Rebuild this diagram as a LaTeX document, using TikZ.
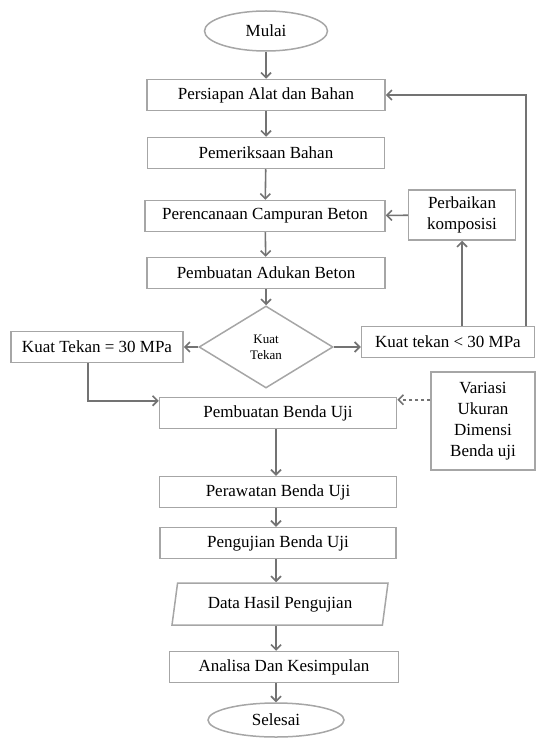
\documentclass[tikz,border=0pt]{standalone}
\usepackage{fontspec}
\setmainfont{Liberation Serif}
\usetikzlibrary{shapes.geometric,arrows.meta}

\begin{document}
\begin{tikzpicture}[
            x=1pt, y=-1pt,
            font=\rmfamily\fontsize{17}{21}\selectfont,
            proses/.style={rectangle, draw=black!35, line width=1.5pt, minimum height=31pt, inner sep=2pt},
            term/.style={ellipse, draw=black!35, line width=1.5pt, inner sep=0pt},
            io/.style={trapezium, trapezium left angle=74, trapezium right angle=106,
                trapezium stretches body, draw=black!35, line width=1.5pt,
                minimum width=216pt, minimum height=42pt, inner sep=2pt},
            kpts/.style={diamond, draw=black!35, line width=1.5pt, inner sep=0pt,
                minimum width=134pt, minimum height=82pt, align=center,
                font=\rmfamily\fontsize{13}{16}\selectfont},
            arr/.style={draw=black!55, line width=1.6pt, -{Straight Barb[length=5pt,width=10pt]}}
        ]
        \useasboundingbox (0,0) rectangle (536,738);

        % Main column
        \node[term, minimum width=123pt, minimum height=40pt] (mulai) at (266,31) {Mulai};
        \node[proses, minimum width=238pt] (siap)    at (266,95)  {Persiapan Alat dan Bahan};
        \node[proses, minimum width=237pt] (periksa) at (266,153) {Pemeriksaan Bahan};
        \node[proses, minimum width=240pt] (rencana) at (265,216) {Perencanaan Campuran Beton};
        \node[proses, minimum width=238pt] (aduk)    at (266,273) {Pembuatan Adukan Beton};
        \node[kpts] (kuat) at (266,347) {Kuat\\Tekan};

        % Side boxes
        \node[proses, minimum width=172pt] (ktsama)   at (97,347)  {Kuat Tekan = 30 MPa};
        \node[proses, minimum width=173pt] (ktkurang) at (448,342) {Kuat tekan < 30 MPa};
        \node[proses, minimum width=107pt, minimum height=50pt, align=center] (perbaikan) at (462,215) {Perbaikan\\komposisi};
        \node[proses, minimum width=104pt, minimum height=98pt, align=center] (variasi) at (483,421) {Variasi\\Ukuran\\Dimensi\\Benda uji};

        % Lower column
        \node[proses, minimum width=237pt] (benda) at (278,413) {Pembuatan Benda Uji};
        \node[proses, minimum width=237pt] (rawat) at (278,492) {Perawatan Benda Uji};
        \node[proses, minimum width=236pt] (uji)   at (278,543) {Pengujian Benda Uji};
        \node[io] (data) at (280,604) {Data Hasil Pengujian};
        \node[proses, minimum width=229pt] (analisa) at (284,667) {Analisa Dan Kesimpulan};
        \node[term, minimum width=136pt, minimum height=34pt] (selesai) at (276,720) {Selesai};

        % Main flow
        \draw[arr] (mulai) -- (siap);
        \draw[arr] (siap) -- (periksa);
        \draw[arr] (periksa) -- (rencana);
        \draw[arr] (rencana) -- (aduk);
        \draw[arr] (aduk) -- (kuat);

        % Decision
        \draw[arr] (kuat.west) -- (kuat.west -| ktsama.east);
        \draw[arr] (kuat.east) -- (kuat.east -| ktkurang.west);
        \draw[arr] (ktkurang.north -| perbaikan) -- (perbaikan);
        \draw[arr] ([xshift=-9pt]ktkurang.north east) |- (siap);
        \draw[arr] (perbaikan) -- (rencana);

        % Into the test pieces
        \coordinate (masuk) at ([yshift=-4pt]benda.north west);
        \coordinate (ukur) at ([yshift=-3pt]benda.north east);
        \draw[arr] ([xshift=-9pt]ktsama.south) |- (masuk);
        \draw[arr, dashed] (variasi.west |- ukur) -- (ukur);

        \draw[arr] ([xshift=-2pt]benda.south) -- ([xshift=-2pt]rawat.north);
        \draw[arr] ([xshift=-2pt]rawat.south) -- ([xshift=-2pt]uji.north);
        \draw[arr] ([xshift=-2pt]uji.south) -- ([xshift=-2pt]uji.south |- data.north);
        \draw[arr] ([xshift=-4pt]data.south) -- ([xshift=-4pt]data.south |- analisa.north);
        \draw[arr] (analisa.south -| selesai) -- (selesai);
    \end{tikzpicture}
\end{document}
